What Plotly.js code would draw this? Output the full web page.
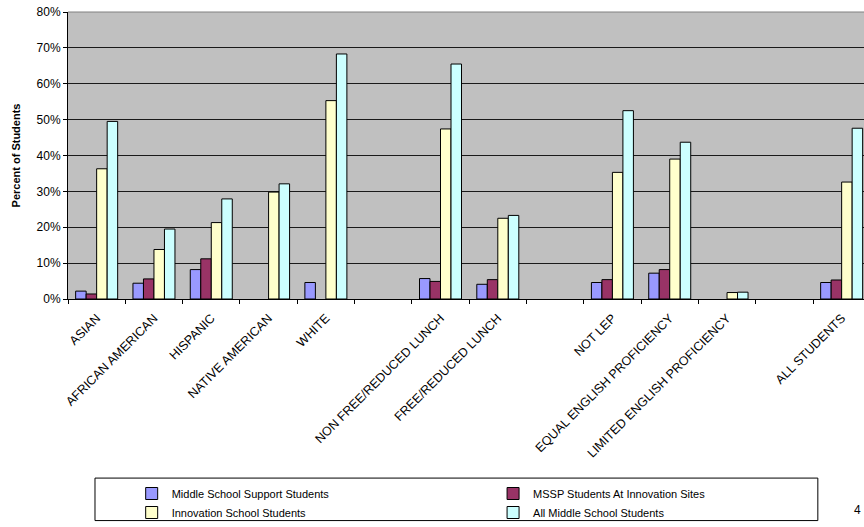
<!DOCTYPE html>
<html>
<head>
<meta charset="utf-8">
<script src="https://cdn.plot.ly/plotly-3.0.1.min.js"></script>
<style>html,body{margin:0;padding:0;background:#fff;overflow:hidden;}</style>
</head>
<body>
<div id="chart" style="width:864px;height:527px;"></div>
<script>
const categories = ["ASIAN", "AFRICAN AMERICAN", "HISPANIC", "NATIVE AMERICAN", "WHITE", " ",
  "NON FREE/REDUCED LUNCH", "FREE/REDUCED LUNCH", "  ",
  "NOT LEP", "EQUAL ENGLISH PROFICIENCY", "LIMITED ENGLISH PROFICIENCY", "   ", "ALL STUDENTS"];

const middleSchoolSupport = [2.2, 4.4, 8.2, null, 4.6, null, 5.7, 4.1, null, 4.6, 7.2, null, null, 4.6];
const msspAtInnovation   = [1.4, 5.6, 11.2, null, null, null, 4.9, 5.4, null, 5.4, 8.2, null, null, 5.3];
const innovationSchool   = [36.3, 13.8, 21.3, 29.8, 55.3, null, 47.4, 22.5, null, 35.3, 39.0, 1.8, null, 32.6];
const allMiddleSchool    = [49.5, 19.5, 27.9, 32.1, 68.3, null, 65.5, 23.3, null, 52.5, 43.7, 1.9, null, 47.6];

const seriesNames = ["Middle School Support Students", "MSSP Students At Innovation Sites",
  "Innovation School Students", "All Middle School Students"];
const seriesColors = ["#9999FF", "#993366", "#FFFFCC", "#CCFFFF"];
const seriesLegends = ["legend", "legend2", "legend", "legend2"];
const seriesData = [middleSchoolSupport, msspAtInnovation, innovationSchool, allMiddleSchool];

const traces = seriesData.map((vals, i) => ({
  type: "bar",
  name: seriesNames[i],
  x: categories,
  y: vals.map(v => v === null ? null : v / 100),
  marker: {color: seriesColors[i], line: {color: "#000", width: 1}},
  legend: seriesLegends[i],
  hoverinfo: "skip"
}));

const FONT = "Liberation Sans, Arial, sans-serif";

const layout = {
  width: 864, height: 527,
  margin: {l: 68, r: 0, t: 12, b: 225},
  paper_bgcolor: "#ffffff",
  plot_bgcolor: "#C0C0C0",
  barmode: "group",
  bargap: 0.267,
  bargroupgap: 0,
  font: {family: FONT, color: "#000", size: 11},
  xaxis: {
    type: "category",
    range: [-0.5, 13.39],
    tickangle: -45,
    tickson: "boundaries",
    ticks: "outside", ticklen: 4, tickcolor: "#000",
    ticklabelstandoff: 6,
    showline: true, linecolor: "#000", linewidth: 1,
    showgrid: false,
    tickfont: {family: FONT, size: 12.5, color: "#000"},
    fixedrange: true
  },
  yaxis: {
    range: [0, 0.8],
    dtick: 0.1,
    tickformat: ".0%",
    ticks: "outside", ticklen: 4, tickcolor: "#000",
    showline: true, linecolor: "#000", linewidth: 1,
    showgrid: true, gridcolor: "#1a1a1a", gridwidth: 1,
    zeroline: false,
    tickfont: {family: FONT, size: 12, color: "#000"},
    title: {text: "<b>Percent of Students</b>", font: {family: FONT, size: 11, color: "#000"}, standoff: 13},
    fixedrange: true
  },
  showlegend: true,
  legend: {
    orientation: "v", x: 0.08, xanchor: "left", y: -0.63, yanchor: "top",
    bgcolor: "rgba(0,0,0,0)", borderwidth: 0,
    font: {family: FONT, size: 11, color: "#000"},
    traceorder: "normal", tracegroupgap: 0
  },
  legend2: {
    orientation: "v", x: 0.534, xanchor: "left", y: -0.63, yanchor: "top",
    bgcolor: "rgba(0,0,0,0)", borderwidth: 0,
    font: {family: FONT, size: 11, color: "#000"},
    traceorder: "normal", tracegroupgap: 0
  },
  shapes: [
    {type: "rect", xref: "paper", yref: "paper",
     x0: 0.0339, x1: 0.942, y0: -0.772, y1: -0.624,
     line: {color: "#000", width: 1}, fillcolor: "rgba(0,0,0,0)"},
    {type: "line", xref: "paper", yref: "paper", x0: 0, x1: 1, y0: 1, y1: 1,
     line: {color: "#808080", width: 1}}
  ],
  annotations: [
    {text: "4", xref: "paper", yref: "paper", x: 0.992, y: -0.734, showarrow: false,
     xanchor: "center", yanchor: "middle", font: {family: FONT, size: 12, color: "#000"}}
  ]
};

Plotly.newPlot("chart", traces, layout, {displayModeBar: false, staticPlot: true});
</script>
</body>
</html>
